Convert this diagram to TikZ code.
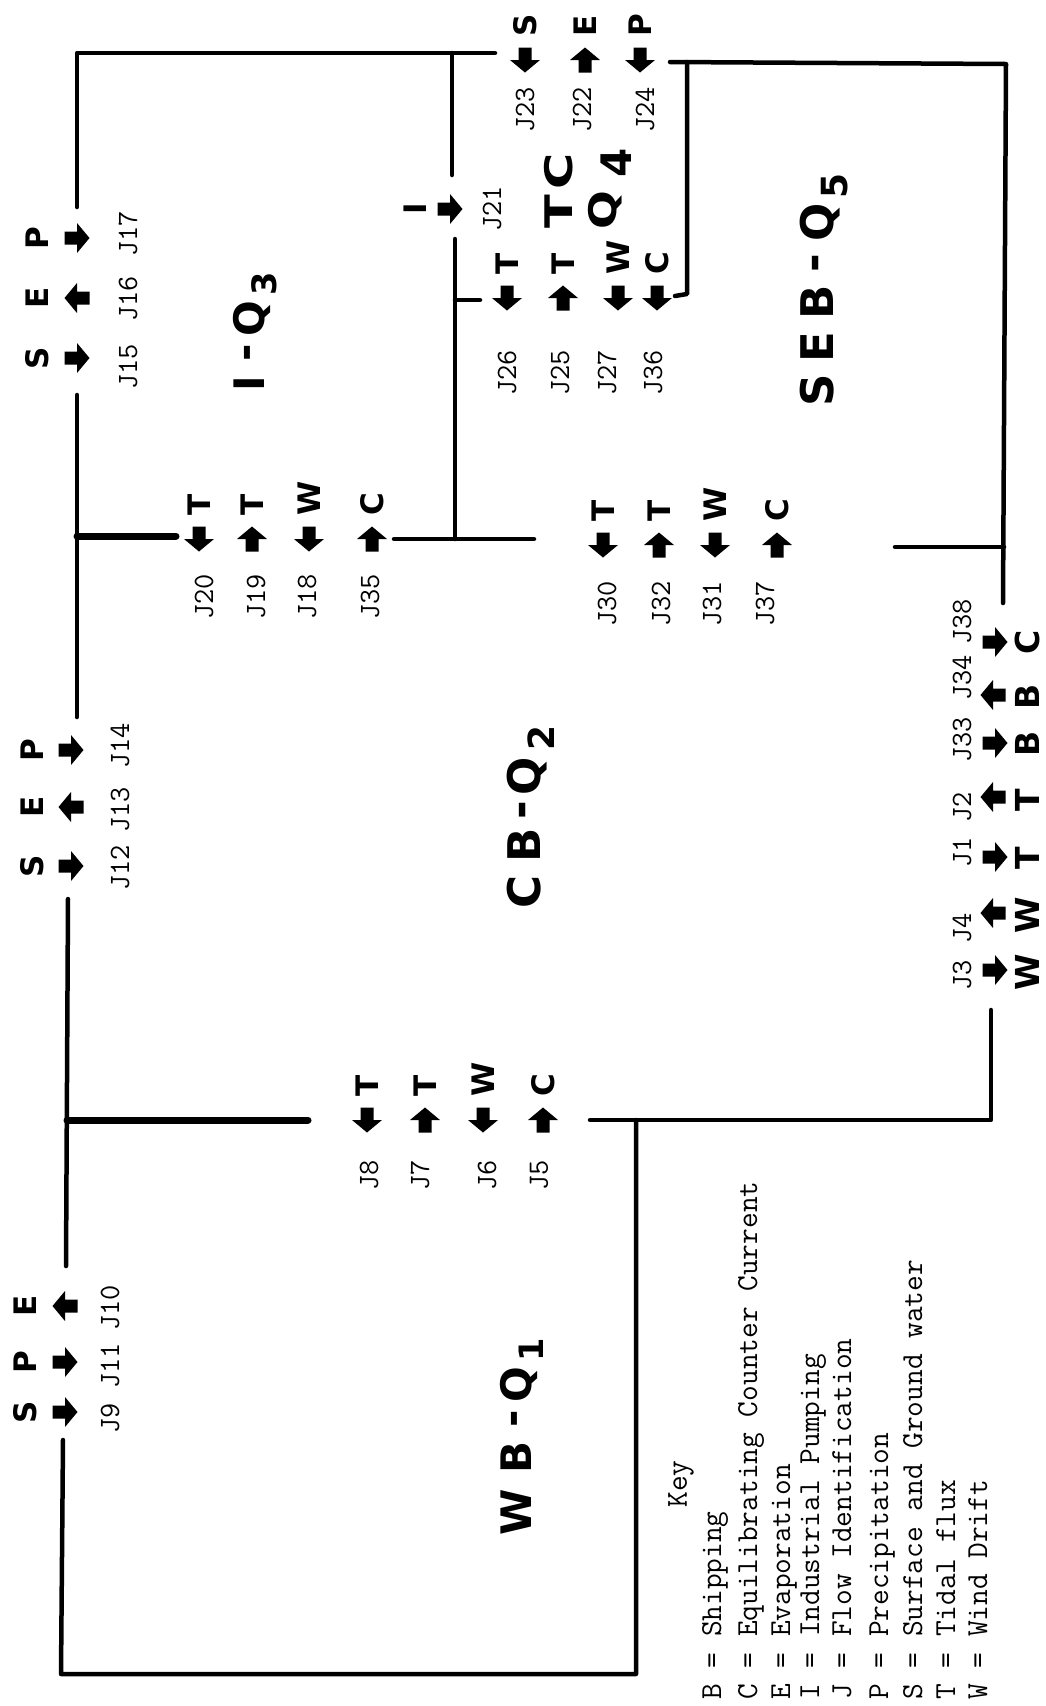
\documentclass[tikz,border=0pt]{standalone}
\usepackage{fontspec}
\usepackage{graphicx}
\usepackage{tikz}
\newfontfamily\regfont{DejaVu Sans}
\newcommand\tagfont{\regfont\bfseries\fontsize{31}{31}\selectfont}
\newcommand\bigtagfont{\regfont\bfseries\fontsize{33}{33}\selectfont}
\newcommand\jfont{\ttfamily\fontsize{29.5}{29.5}\selectfont}
\newcommand\keyfont{\ttfamily\fontsize{30.5}{30.5}\selectfont}
\newcommand\lsub[1]{\raisebox{-.3em}{\scalebox{.8}{#1}}}
\newcommand\rdash{\raisebox{.12em}{-}}

\begin{document}
\begin{tikzpicture}[
  x=1pt, y=-1pt,
  vtext/.style={rotate=90, inner sep=0pt},
  wall/.style={line width=4.5pt, line cap=round, line join=round},
  trunk/.style={wall, line width=7pt},
  tag/.style={vtext, font=\tagfont},
  bigtag/.style={vtext, font=\bigtagfont},
  jlab/.style={vtext, font=\jfont},
  key/.style={vtext, font=\keyfont, anchor=base west},
  region/.style={vtext, font=\regfont\bfseries\fontsize{#1}{#1}\selectfont},
  flux/.pic={\fill (-12.5,-6.5) -- (0,-6.5) -- (0,-15) -- (12.5,0)
             -- (0,15) -- (0,6.5) -- (-12.5,6.5) -- cycle;}
]
\fill[white] (0,0) rectangle (1045,1706);
\useasboundingbox (0,0) rectangle (1045,1706);

% compartment walls
\draw[wall] (495,53) -- (77,53) -- (77,207);
\draw[wall] (452,53) -- (452,175);
\draw[wall] (77,395) -- (77,717);
\draw[trunk] (77,536) -- (176,536);
\draw[wall] (68,899) -- (66,1266);
\draw[trunk] (67,1120) -- (308,1120);
\draw[wall] (63,1440) -- (61,1674) -- (636,1674) -- (636,1120);
\draw[wall] (590,1120) -- (991,1120) -- (991,1010);
\draw[wall] (1003,603) -- (1006,64) -- (670,62);
\draw[wall] (687,62) -- (687,294) -- (675,296);
\draw[wall] (895,547) -- (1004,547);
\draw[wall] (455,239) -- (455,539);
\draw[wall] (455,300) -- (480,300);
\draw[wall] (394,539) -- (534,539);

% compartment names
\node[region=42] (iq) at (255,332)
  {I\kern.35em\rdash\kern.18em Q\kern.12em\lsub{3}};
\node[region=38] (tc) at (559,191) {\scalebox{1.3}[1]{T\kern.1em C}};
\node[region=38] (q4) at (610,189)
  {\scalebox{1.2}[1]{Q}\kern13pt\raisebox{-15pt}{\fontsize{42}{42}\selectfont 4}};
\node[region=45] (seb) at (824,290)
  {S\kern.27em E\kern.27em B\kern.27em\rdash\kern.27em Q\kern.12em\lsub{5}};
\node[region=45] (cb) at (531,817)
  {C\kern.28em B\kern.2em\rdash\kern.12em Q\kern.15em\lsub{2}};
\node[region=42] (wb) at (522,1437)
  {W\kern.38em B\kern.33em\rdash\kern.18em Q\kern.12em\lsub{1}};

% J15 - J17
\pic at (77,238) {flux};
\pic[rotate=180] at (77,298) {flux};
\pic at (77,358) {flux};
\node[tag] (p17) at (37,238) {P};
\node[tag] (e16) at (37,298) {E};
\node[tag] (s15) at (37,358) {S};
\node[jlab] (j17) at (128,234) {J17};
\node[jlab] (j16) at (128,299) {J16};
\node[jlab] (j15) at (128,367) {J15};

% J12 - J14
\pic at (71,750) {flux};
\pic[rotate=180] at (71,807) {flux};
\pic at (71,866) {flux};
\node[tag] (p14) at (32,750) {P};
\node[tag] (e13) at (32,807) {E};
\node[tag] (s12) at (32,866) {S};
\node[jlab] (j14) at (120,746) {J14};
\node[jlab] (j13) at (120,810) {J13};
\node[jlab] (j12) at (120,868) {J12};

% J9 - J11
\pic[rotate=180] at (65,1306) {flux};
\pic at (65,1362) {flux};
\pic at (65,1412) {flux};
\node[tag] (e10) at (25,1306) {E};
\node[tag] (p11) at (25,1362) {P};
\node[tag] (s9) at (25,1412) {S};
\node[jlab] (j10) at (110,1308) {J10};
\node[jlab] (j11) at (110,1366) {J11};
\node[jlab] (j9) at (110,1418) {J9};

% J20, J19, J18, J35
\pic[rotate=-90] at (199,539) {flux};
\pic[rotate=90] at (252,539) {flux};
\pic[rotate=-90] at (309,539) {flux};
\pic[rotate=90] at (372,539) {flux};
\node[tag, anchor=west] (t20) at (199,516) {T};
\node[tag, anchor=west] (t19) at (252,516) {T};
\node[tag, anchor=west] (w18) at (309,516) {W};
\node[tag, anchor=west] (c35) at (372,516) {C};
\node[jlab] (j20) at (204,597) {J20};
\node[jlab] (j19) at (256,597) {J19};
\node[jlab] (j18) at (307,597) {J18};
\node[jlab] (j35) at (370,597) {J35};

% J8, J7, J6, J5
\pic[rotate=-90] at (367,1120) {flux};
\pic[rotate=90] at (425,1120) {flux};
\pic[rotate=-90] at (483,1120) {flux};
\pic[rotate=90] at (543,1120) {flux};
\node[tag, anchor=west] (t8) at (367,1097) {T};
\node[tag, anchor=west] (t7) at (425,1097) {T};
\node[tag, anchor=west] (w6) at (483,1097) {W};
\node[tag, anchor=west] (c5) at (543,1097) {C};
\node[jlab] (j8) at (369,1175) {J8};
\node[jlab] (j7) at (420,1175) {J7};
\node[jlab] (j6) at (487,1175) {J6};
\node[jlab] (j5) at (539,1175) {J5};

% J30, J32, J31, J37
\pic[rotate=-90] at (603,545) {flux};
\pic[rotate=90] at (659,545) {flux};
\pic[rotate=-90] at (715,545) {flux};
\pic[rotate=90] at (777,545) {flux};
\node[tag, anchor=west] (t30) at (603,522) {T};
\node[tag, anchor=west] (t32) at (659,522) {T};
\node[tag, anchor=west] (w31) at (715,522) {W};
\node[tag, anchor=west] (c37) at (777,522) {C};
\node[jlab] (j30) at (607,604) {J30};
\node[jlab] (j32) at (661,604) {J32};
\node[jlab] (j31) at (712,604) {J31};
\node[jlab] (j37) at (765,604) {J37};

% J26, J25, J27, J36
\pic[rotate=-90] at (507,298) {flux};
\pic[rotate=90] at (563,298) {flux};
\pic[rotate=-90] at (618,298) {flux};
\pic[rotate=-90] at (657,298) {flux};
\node[tag, anchor=west] (t26) at (507,275) {T};
\node[tag, anchor=west] (t25) at (563,275) {T};
\node[tag, anchor=west] (w27) at (618,275) {W};
\node[tag, anchor=west] (c36) at (657,275) {C};
\node[jlab] (j26) at (507,373) {J26};
\node[jlab] (j25) at (560,373) {J25};
\node[jlab] (j27) at (607,373) {J27};
\node[jlab] (j36) at (653,373) {J36};

% J23, J22, J24
\pic[rotate=-90] at (525,60) {flux};
\pic[rotate=90] at (585,60) {flux};
\pic[rotate=-90] at (640,60) {flux};
\node[tag, anchor=west] (s23) at (525,37) {S};
\node[tag, anchor=west] (e22) at (585,37) {E};
\node[tag, anchor=west] (p24) at (640,37) {P};
\node[jlab] (j23) at (525,110) {J23};
\node[jlab] (j22) at (582,110) {J22};
\node[jlab] (j24) at (645,110) {J24};

% J21
\pic at (450,209) {flux};
\node[tag] (i21) at (415,209) {I};
\node[jlab] (j21) at (492,209) {J21};

% J3, J4, J1, J2, J33, J34, J38
\pic at (995,642) {flux};
\pic[rotate=180] at (993,695) {flux};
\pic at (995,743) {flux};
\pic[rotate=180] at (993,797) {flux};
\pic at (995,857) {flux};
\pic[rotate=180] at (993,913) {flux};
\pic at (995,970) {flux};
\node[bigtag] (c38) at (1027,642) {C};
\node[bigtag] (b34) at (1027,697) {B};
\node[bigtag] (b33) at (1027,744) {B};
\node[bigtag] (t2) at (1027,800) {T};
\node[bigtag] (t1) at (1027,858) {T};
\node[bigtag] (w4) at (1027,915) {W};
\node[bigtag] (w3) at (1027,972) {W};
\node[jlab] (j38) at (962,622) {J38};
\node[jlab] (j34) at (962,678) {J34};
\node[jlab] (j33) at (962,740) {J33};
\node[jlab] (j2) at (962,807) {J2};
\node[jlab] (j1) at (962,852) {J1};
\node[jlab] (j4) at (962,928) {J4};
\node[jlab] (j3) at (962,975) {J3};

% key
\node[vtext, font=\keyfont] (keyhd) at (681,1484) {Key};
\node[key] (kb) at (721,1700) {B = Shipping};
\node[key] (kc) at (757,1700) {C = Equilibrating Counter Current};
\node[key] (ke) at (790,1700) {E = Evaporation};
\node[key] (ki) at (819,1700) {I = Industrial Pumping};
\node[key] (kj) at (851,1700) {J = Flow Identification};
\node[key] (kp) at (888,1700) {P = Precipitation};
\node[key] (ks) at (922,1700) {S = Surface and Ground water};
\node[key] (kt) at (955,1700) {T = Tidal flux};
\node[key] (kw) at (987,1700) {W = Wind Drift};
\end{tikzpicture}
\end{document}
